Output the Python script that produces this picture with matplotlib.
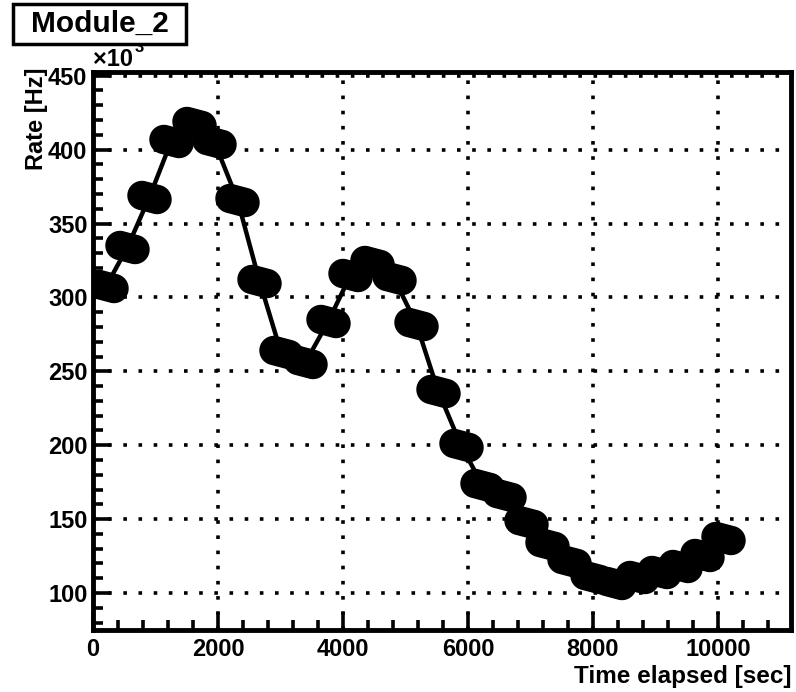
import numpy as np
import matplotlib
matplotlib.use("Agg")
import matplotlib.pyplot as plt
from matplotlib.path import Path
from matplotlib.patches import Rectangle
from matplotlib.ticker import MultipleLocator

plt.rcParams['font.family'] = ['Liberation Sans', 'DejaVu Sans']
plt.rcParams['font.weight'] = 'bold'

# Rate of Module_2 vs elapsed time
time_sec = [216, 552, 904, 1256, 1616, 1944, 2312, 2664, 3008, 3400,
            3768, 4120, 4472, 4816, 5176, 5520, 5888, 6232, 6576, 6928,
            7272, 7616, 7984, 8336, 8712, 9056, 9392, 9752, 10080]
rate_khz = [308, 334, 368, 406, 418, 405, 366, 311, 263, 256,
            284, 315, 324, 313, 282, 237, 200, 173, 166, 148,
            133, 122, 111, 107, 111, 114, 118, 126, 137]

title = "Module_2"
xlabel = "Time elapsed [sec]"
ylabel = "Rate [Hz]"


def pill_marker(half_dx=7.5, half_dy=2.0, r=14.0, n=120):
    """Slanted stadium shape, like the fat markers in the original."""
    c1 = np.array([-half_dx, half_dy])
    c2 = np.array([half_dx, -half_dy])
    verts = []
    for phi in np.linspace(0, 2 * np.pi, n, endpoint=False):
        d = np.array([np.cos(phi), np.sin(phi)])
        c = c1 if d @ c1 > d @ c2 else c2
        verts.append(c + r * d)
    verts.append(verts[0])
    codes = [Path.MOVETO] + [Path.LINETO] * (len(verts) - 2) + [Path.CLOSEPOLY]
    return Path(np.array(verts), codes)


W, H = 796, 692
fig = plt.figure(figsize=(W / 100, H / 100), dpi=100)
ax = fig.add_axes([93 / W, 1 - 630 / H, (791 - 93) / W, (630 - 72) / H])

ax.plot(time_sec, rate_khz, color='black', lw=3.2, zorder=3)
ax.plot(time_sec, rate_khz, linestyle='none', marker=pill_marker(),
        markersize=43 * 72 / 100, color='black', zorder=4)

ax.set_xlim(0, 11170)
ax.set_ylim(75, 452.5)

ax.xaxis.set_major_locator(MultipleLocator(2000))
ax.xaxis.set_minor_locator(MultipleLocator(400))
ax.yaxis.set_major_locator(MultipleLocator(50))
ax.yaxis.set_minor_locator(MultipleLocator(10))
ax.set_yticks([100, 150, 200, 250, 300, 350, 400, 450])

ax.grid(True, which='major', color='black', lw=2.6, linestyle=(0, (1, 3.2)))
ax.set_axisbelow(True)

ax.tick_params(which='both', direction='in', width=2.6, labelsize=17,
               top=False, right=False)
ax.tick_params(which='major', length=13)
ax.tick_params(which='minor', length=7)
ax.tick_params(axis='x', pad=6)
ax.tick_params(axis='y', pad=4)
for lab in ax.get_xticklabels() + ax.get_yticklabels():
    lab.set_fontweight('bold')
for sp in ax.spines.values():
    sp.set_linewidth(3.5)

fig.text(36 / W, 1 - 68 / H, ylabel, rotation=90, ha='center', va='top',
         fontsize=17, fontweight='bold')
fig.text(791 / W, 1 - 676 / H, xlabel, ha='right', va='center',
         fontsize=17.5, fontweight='bold')
fig.text(93 / W, 1 - 60 / H, "\u00d710", ha='left', va='center',
         fontsize=17, fontweight='bold')
fig.text(135 / W, 1 - 47 / H, "3", ha='left', va='center',
         fontsize=12, fontweight='bold')

# title box
fig.patches.append(Rectangle((13 / W, 1 - 44 / H), (186 - 13) / W, 40 / H,
                             transform=fig.transFigure, facecolor='white',
                             edgecolor='black', linewidth=2.5, zorder=5))
fig.text(100 / W, 1 - 24 / H, title, ha='center', va='center',
         fontsize=21.5, fontweight='bold', zorder=6)

fig.savefig("out.png", dpi=100)
